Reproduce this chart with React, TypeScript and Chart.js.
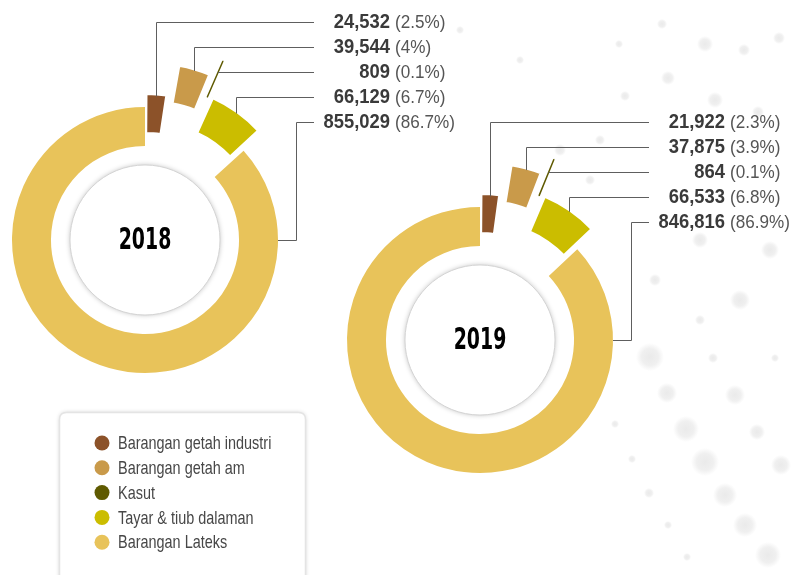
import React, { useEffect, useRef } from "react";
import { Chart, registerables } from "chart.js";

Chart.register(...registerables);

// ---------- data ----------
const categories = [
  "Barangan getah industri",
  "Barangan getah am",
  "Kasut",
  "Tayar & tiub dalaman",
  "Barangan Lateks",
];
const sliceColors = ["#8c5229", "#c99a4a", "#5f5a00", "#cbbd00", "#e8c35a"];
const years = ["2018", "2019"];
const values2018 = [24532, 39544, 809, 66129, 855029];
const percents2018 = ["2.5%", "4%", "0.1%", "6.7%", "86.7%"];
const values2019 = [21922, 37875, 864, 66533, 846816];
const percents2019 = ["2.3%", "3.9%", "0.1%", "6.8%", "86.9%"];

// ---------- style ----------
const explodePx = [13, 45, 62, 25, 0];
const borderWidths = [2, 3, 1.5, 3, 0];
const borderColors = ["#ffffff", "#ffffff", "#5f5a00", "#ffffff", "#ffffff"];
const RING_RADIUS = 133;
const RING_CUTOUT = "70.7%";
const W = 793;
const H = 575;

// decorative bokeh dots [x, y, r]
const bgDots: number[][] = [
  [662, 24, 5], [619, 44, 4], [705, 44, 8], [744, 50, 6], [779, 38, 6], [668, 78, 7],
  [625, 96, 5], [715, 100, 8], [758, 112, 6], [650, 357, 14], [667, 393, 10], [735, 395, 10],
  [686, 429, 13], [757, 432, 8], [705, 462, 14], [781, 465, 10], [725, 495, 12], [745, 525, 12],
  [768, 555, 13], [615, 424, 4], [632, 459, 4], [649, 493, 5], [668, 525, 4], [687, 557, 4],
  [713, 358, 5], [775, 358, 4], [560, 150, 6], [590, 180, 5], [700, 240, 8], [740, 300, 10],
  [770, 250, 9], [655, 280, 6], [700, 320, 5], [520, 60, 4], [460, 30, 4], [600, 140, 5],
];

function offsetsFor(values: number[]) {
  const total = values.reduce((a, b) => a + b, 0);
  return values.map((v, i) => {
    const circ = (v / total) * Math.PI * 2;
    const fix = 1 - Math.sin(Math.min(Math.PI, circ));
    return (4 * explodePx[i]) / (1 + fix);
  });
}

function fillScaled(
  ctx: CanvasRenderingContext2D,
  text: string,
  x: number,
  y: number,
  sx: number,
  align: CanvasTextAlign
) {
  ctx.save();
  ctx.translate(x, y);
  ctx.scale(sx, 1);
  ctx.textAlign = align;
  ctx.fillText(text, 0, 0);
  ctx.restore();
}

function makeAnnotPlugin(year: string, percents: string[]) {
  return {
    id: "annot" + year,
    afterDatasetsDraw(chart: any) {
      const ctx = chart.ctx as CanvasRenderingContext2D;
      const meta = chart.getDatasetMeta(0);
      const arcs = meta.data as any[];
      const a0 = arcs[0];
      const cx = a0.x;
      const cy = a0.y;
      const rIn = a0.innerRadius;
      const rOut = a0.outerRadius;
      const values: number[] = chart.data.datasets[0].data;
      ctx.save();
      // inner white disc
      ctx.beginPath();
      ctx.arc(cx, cy, rIn - 19, 0, Math.PI * 2);
      ctx.fillStyle = "#ffffff";
      ctx.shadowColor = "rgba(0,0,0,0.25)";
      ctx.shadowBlur = 5;
      ctx.fill();
      ctx.shadowColor = "rgba(0,0,0,0)";
      ctx.shadowBlur = 0;
      ctx.lineWidth = 1;
      ctx.strokeStyle = "#d4d4d4";
      ctx.stroke();
      // year
      ctx.fillStyle = "#000000";
      ctx.font = "bold 30px 'DejaVu Sans', sans-serif";
      ctx.textBaseline = "middle";
      fillScaled(ctx, year, cx, cy + 1, 0.63, "center");

      // leaders + labels
      const maxIdx = values.indexOf(Math.max(...values));
      const rowTop = cy - 218.5;
      const gap = 25.2;
      const lineEnd = cx + 169;
      const valRight = cx + 245;
      const bendX = Math.round(cx + 151) + 0.5;
      arcs.forEach((arc: any, i: number) => {
        const y = Math.round(rowTop + i * gap) + 0.5;
        ctx.beginPath();
        ctx.strokeStyle = "#5e5e5e";
        ctx.lineWidth = 1;
        if (i === maxIdx) {
          const yc = Math.round(cy) + 0.5;
          ctx.moveTo(cx + rOut, yc);
          ctx.lineTo(bendX, yc);
          ctx.lineTo(bendX, y);
          ctx.lineTo(lineEnd, y);
        } else {
          const mid = (arc.startAngle + arc.endAngle) / 2;
          const d = explodePx[i];
          const s = Math.sin(mid);
          const rc = (y - cy) / s;
          if (s < 0 && rc >= rIn + d && rc <= rOut + d) {
            ctx.moveTo(cx + Math.cos(mid) * rc, y);
          } else {
            const rr = rOut + d - 2;
            const px = Math.round(cx + Math.cos(mid) * rr) + 0.5;
            const py = cy + s * rr;
            ctx.moveTo(px, py);
            ctx.lineTo(px, y);
          }
          ctx.lineTo(lineEnd, y);
        }
        ctx.stroke();

        ctx.textBaseline = "middle";
        ctx.fillStyle = "#3a3a3a";
        ctx.font = "bold 20px 'Liberation Sans', Arial, sans-serif";
        fillScaled(ctx, values[i].toLocaleString("en-US"), valRight, y, 0.92, "right");
        ctx.fillStyle = "#555555";
        ctx.font = "19px 'Liberation Sans', Arial, sans-serif";
        fillScaled(ctx, "(" + percents[i] + ")", valRight + 5, y, 0.9, "left");
      });
      ctx.restore();
    },
  };
}

const legendBoxPlugin = {
  id: "legendBox",
  afterDraw(chart: any) {
    const ctx = chart.ctx as CanvasRenderingContext2D;
    const labels: string[] = chart.data.labels;
    const colors: string[] = chart.data.datasets[0].backgroundColor;
    ctx.save();
    const x = 59.5, y = 412.5, w = 246, h = 190, r = 7;
    ctx.beginPath();
    ctx.moveTo(x + r, y);
    ctx.lineTo(x + w - r, y);
    ctx.quadraticCurveTo(x + w, y, x + w, y + r);
    ctx.lineTo(x + w, y + h - r);
    ctx.quadraticCurveTo(x + w, y + h, x + w - r, y + h);
    ctx.lineTo(x + r, y + h);
    ctx.quadraticCurveTo(x, y + h, x, y + h - r);
    ctx.lineTo(x, y + r);
    ctx.quadraticCurveTo(x, y, x + r, y);
    ctx.closePath();
    ctx.fillStyle = "#ffffff";
    ctx.shadowColor = "rgba(0,0,0,0.2)";
    ctx.shadowBlur = 4;
    ctx.fill();
    ctx.shadowColor = "rgba(0,0,0,0)";
    ctx.shadowBlur = 0;
    ctx.strokeStyle = "#e4e4e4";
    ctx.lineWidth = 1.5;
    ctx.stroke();

    labels.forEach((label, i) => {
      const ly = 443 + i * 24.8;
      ctx.beginPath();
      ctx.arc(102, ly, 7.5, 0, Math.PI * 2);
      ctx.fillStyle = colors[i];
      ctx.fill();
      ctx.fillStyle = "#474747";
      ctx.font = "19px 'Liberation Sans', Arial, sans-serif";
      ctx.textBaseline = "middle";
      fillScaled(ctx, label, 118, ly + 1, 0.76, "left");
    });
    ctx.restore();
  },
};

function makeChart(
  canvas: HTMLCanvasElement,
  values: number[],
  year: string,
  percents: string[],
  padding: { left: number; right: number; top: number; bottom: number },
  withLegend: boolean
) {
  const plugins: any[] = [makeAnnotPlugin(year, percents)];
  if (withLegend) plugins.push(legendBoxPlugin);
  return new Chart(canvas, {
    type: "doughnut",
    data: {
      labels: categories,
      datasets: [
        {
          data: values,
          backgroundColor: sliceColors,
          borderColor: borderColors,
          borderWidth: borderWidths,
          offset: offsetsFor(values),
          radius: RING_RADIUS,
          cutout: RING_CUTOUT,
        } as any,
      ],
    },
    options: {
      responsive: false,
      animation: false,
      events: [],
      layout: { padding },
      plugins: {
        legend: { display: false },
        tooltip: { enabled: false },
        title: { display: false },
      },
    } as any,
    plugins,
  });
}

export default function App() {
  const ref1 = useRef<HTMLCanvasElement>(null);
  const ref2 = useRef<HTMLCanvasElement>(null);

  useEffect(() => {
    if (!ref1.current || !ref2.current) return;
    // chart 1 centered at (145, 240); chart 2 centered at (480, 340)
    const c1 = makeChart(ref1.current, values2018, years[0], percents2018,
      { left: 0, right: W - 290, top: 0, bottom: H - 480 }, true);
    const c2 = makeChart(ref2.current, values2019, years[1], percents2019,
      { left: 480 * 2 - W, right: 0, top: 340 * 2 - H, bottom: 0 }, false);
    return () => {
      c1.destroy();
      c2.destroy();
    };
  }, []);

  const bg = bgDots
    .map(([x, y, r]) => `radial-gradient(circle at ${x}px ${y}px, rgba(205,205,205,0.42) 0px, rgba(210,210,210,0.34) ${r * 0.6}px, rgba(255,255,255,0) ${r}px)`)
    .join(", ");

  return (
    <div
      style={{
        position: "fixed",
        left: 0,
        top: 0,
        width: W,
        height: H,
        overflow: "hidden",
        backgroundColor: "#ffffff",
        backgroundImage: bg,
      }}
    >
      <canvas ref={ref1} width={W} height={H} style={{ position: "absolute", left: 0, top: 0, width: W, height: H }} />
      <canvas ref={ref2} width={W} height={H} style={{ position: "absolute", left: 0, top: 0, width: W, height: H }} />
    </div>
  );
}
